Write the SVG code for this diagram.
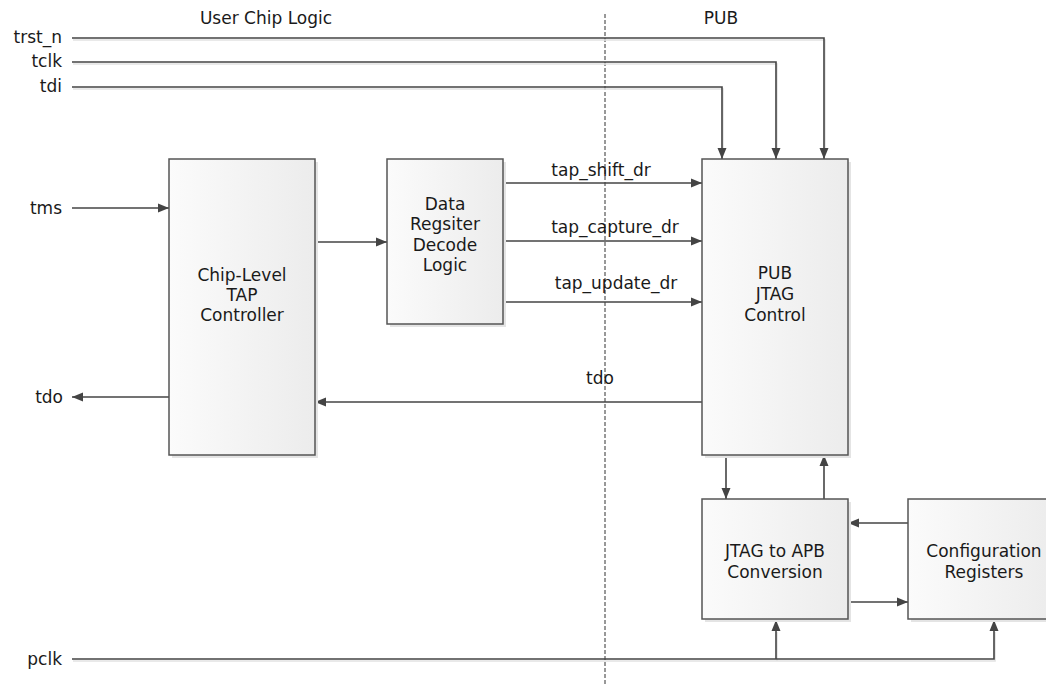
<svg xmlns="http://www.w3.org/2000/svg" width="1046" height="686" viewBox="0 0 1046 686">
<style>
text{font-family:"DejaVu Sans","Verdana",sans-serif;font-size:17px;fill:#1a1a1a}
.c{text-anchor:middle}
.r{text-anchor:end}
.box{fill:url(#g);stroke:#555;stroke-width:1.5}
.sh{fill:#e4e4e4}
.w{fill:none;stroke:#444;stroke-width:1.6}
.ws{fill:none;stroke:#e2e2e2;stroke-width:1.6}
.dash{fill:none;stroke:#333;stroke-width:1;stroke-dasharray:4 2}
</style>
<defs>
<linearGradient id="g" x1="0" y1="0" x2="1" y2="0">
<stop offset="0" stop-color="#fbfbfb"/>
<stop offset="1" stop-color="#ececec"/>
</linearGradient>
<marker id="a" markerWidth="12" markerHeight="10" refX="11" refY="5" orient="auto" markerUnits="userSpaceOnUse">
<path d="M0,0.5 L11,5 L0,9.5 Z" fill="#444"/>
</marker>
</defs>
<rect width="1046" height="686" fill="#fff"/>

<g id="headers">
<text x="266" y="24" class="c">User Chip Logic</text>
<text x="721" y="24" class="c">PUB</text>
</g>

<g id="boundary">
<line x1="605" y1="14" x2="605" y2="686" class="dash"/>
</g>

<g id="connector-shadows" transform="translate(1,2)">
<path class="ws" d="M72,38 H824 V150"/>
<path class="ws" d="M72,62 H776 V150"/>
<path class="ws" d="M72,87 H722 V150"/>
<path class="ws" d="M72,659 H994 V630 M776,659 V630"/>
</g>

<g id="connectors">
<path class="w" d="M72,38 H824 V159" marker-end="url(#a)"/>
<path class="w" d="M72,62 H776 V159" marker-end="url(#a)"/>
<path class="w" d="M72,87 H722 V159" marker-end="url(#a)"/>
<path class="w" d="M72,208 H169" marker-end="url(#a)"/>
<path class="w" d="M315,242 H387" marker-end="url(#a)"/>
<path class="w" d="M503,183 H702" marker-end="url(#a)"/>
<path class="w" d="M503,241 H702" marker-end="url(#a)"/>
<path class="w" d="M503,302 H702" marker-end="url(#a)"/>
<path class="w" d="M702,402 H315" marker-end="url(#a)"/>
<path class="w" d="M169,397 H72" marker-end="url(#a)"/>
<path class="w" d="M726,455 V499" marker-end="url(#a)"/>
<path class="w" d="M824,499 V455" marker-end="url(#a)"/>
<path class="w" d="M908,523 H848" marker-end="url(#a)"/>
<path class="w" d="M848,602 H908" marker-end="url(#a)"/>
<path class="w" d="M72,659 H994 V620" marker-end="url(#a)"/>
<path class="w" d="M776,659 V620" marker-end="url(#a)"/>
</g>

<g id="signal-labels">
<text x="62" y="43" class="r">trst_n</text>
<text x="62" y="67" class="r">tclk</text>
<text x="62" y="92" class="r">tdi</text>
<text x="62" y="214" class="r">tms</text>
<text x="63" y="403" class="r">tdo</text>
<text x="62" y="665" class="r">pclk</text>
<text x="601" y="176" class="c">tap_shift_dr</text>
<text x="615" y="233" class="c">tap_capture_dr</text>
<text x="616" y="289" class="c">tap_update_dr</text>
<text x="600" y="384" class="c">tdo</text>
</g>

<g id="chip-tap">
<rect x="172" y="162" width="146" height="296" class="sh"/>
<rect x="169" y="159" width="146" height="296" class="box"/>
<text x="242" y="281" class="c">Chip-Level</text>
<text x="242" y="301" class="c">TAP</text>
<text x="242" y="321" class="c">Controller</text>
</g>

<g id="dr-decode">
<rect x="390" y="162" width="116" height="165" class="sh"/>
<rect x="387" y="159" width="116" height="165" class="box"/>
<text x="445" y="210" class="c">Data</text>
<text x="445" y="230" class="c">Regsiter</text>
<text x="445" y="251" class="c">Decode</text>
<text x="445" y="271" class="c">Logic</text>
</g>

<g id="pub-jtag">
<rect x="705" y="162" width="146" height="296" class="sh"/>
<rect x="702" y="159" width="146" height="296" class="box"/>
<text x="775" y="279" class="c">PUB</text>
<text x="775" y="300" class="c">JTAG</text>
<text x="775" y="321" class="c">Control</text>
</g>

<g id="jtag-apb">
<rect x="705" y="502" width="146" height="120" class="sh"/>
<rect x="702" y="499" width="146" height="120" class="box"/>
<text x="775" y="557" class="c">JTAG to APB</text>
<text x="775" y="578" class="c">Conversion</text>
</g>

<g id="config-regs">
<rect x="911" y="502" width="146" height="120" class="sh"/>
<rect x="908" y="499" width="146" height="120" class="box"/>
<text x="984" y="557" class="c">Configuration</text>
<text x="984" y="578" class="c">Registers</text>
</g>
</svg>
